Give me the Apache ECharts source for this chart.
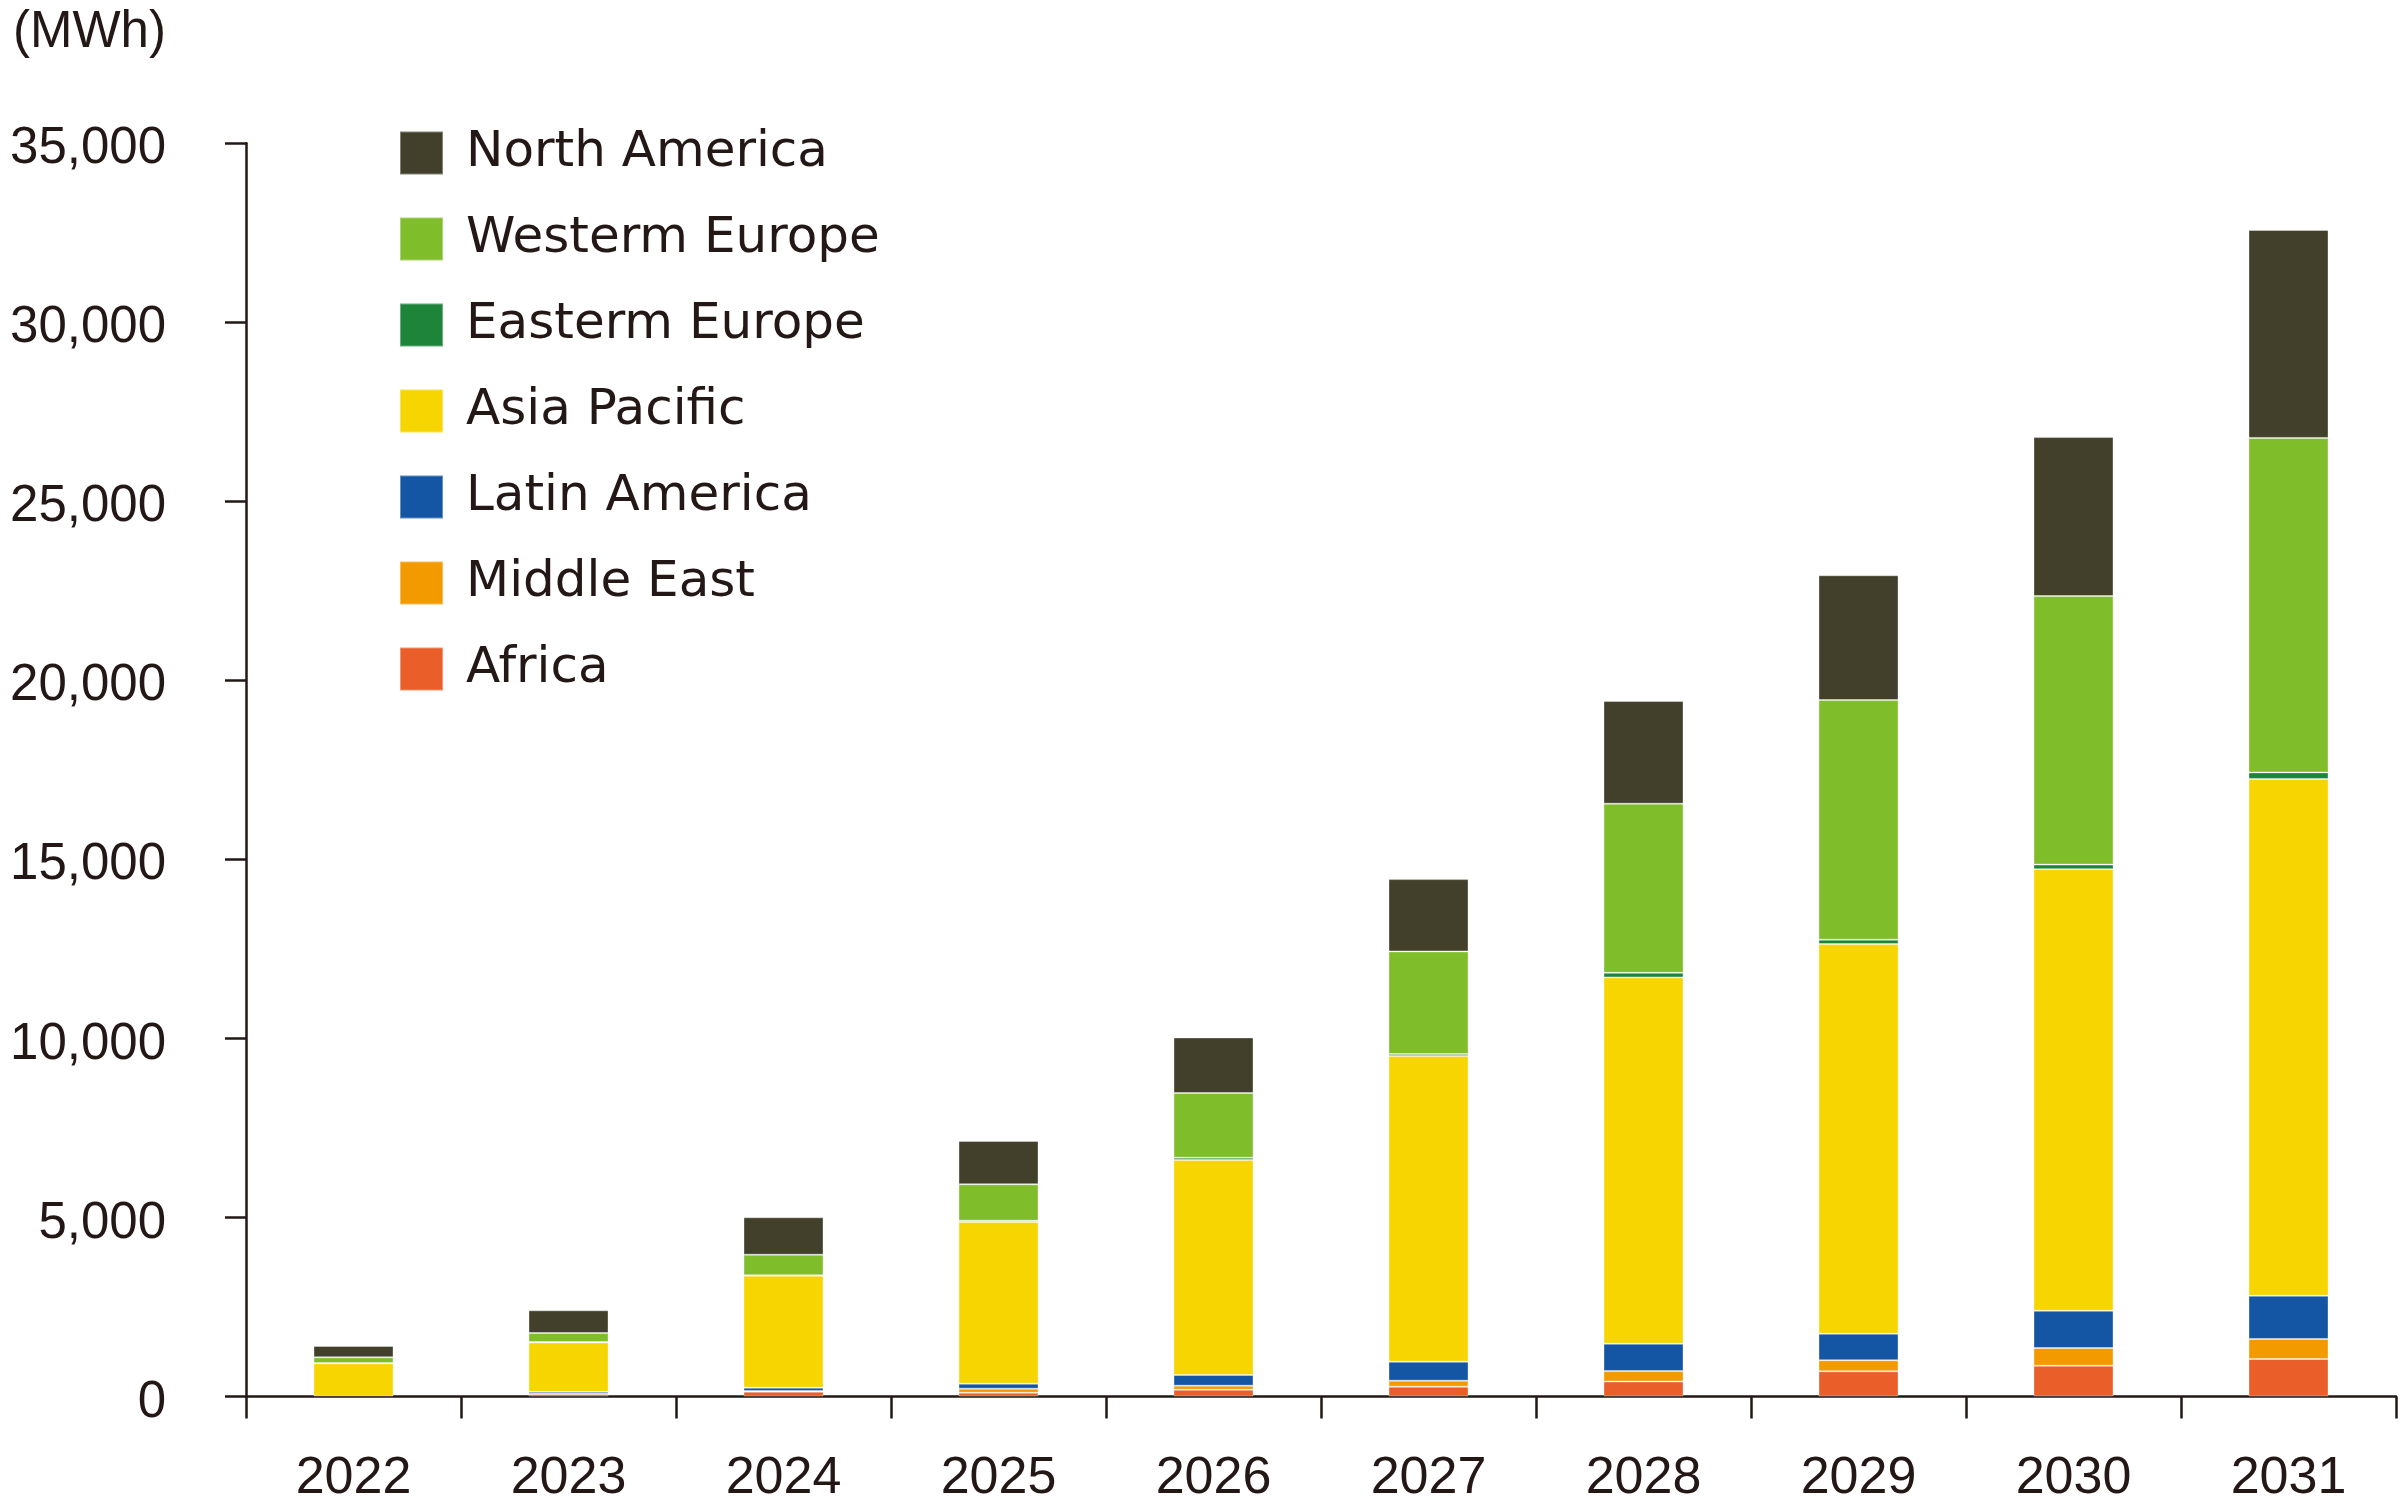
<!DOCTYPE html>
<html>
<head>
<meta charset="utf-8">
<script src="https://cdn.jsdelivr.net/npm/echarts@6/dist/echarts.min.js"></script>
<style>
html,body{margin:0;padding:0;background:#fff;}
#chart{width:2400px;height:1500px;}
</style>
</head>
<body>
<div id="chart"></div>
<script>
const years = ['2022','2023','2024','2025','2026','2027','2028','2029','2030','2031'];
const africa        = [0,   70,  135, 106, 190, 274, 419, 704, 860, 1047];
const middleEast    = [0,   10,  18,  112, 112, 167, 290, 307, 495, 559];
const latinAmerica  = [0,   50,  93,  139, 298, 531, 766, 743, 1041, 1209];
const asiaPacific   = [925, 1380, 3128, 4517, 6005, 8540, 10230, 10884, 12331, 14433];
const easternEurope = [12,  12,  12,  36,  64,  53,  128, 120, 128, 182];
const westernEurope = [158, 251, 574, 1016, 1807, 2866, 4723, 6694, 7502, 9342];
const northAmerica  = [315, 634, 1045, 1210, 1550, 2019, 2868, 3483, 4437, 5806];
const yMin = 0, yMax = 35000, yInterval = 5000;
const unitLabel = '(MWh)';

const seriesDefs = [
  {name:'Africa', data:africa, color:'#e95e29'},
  {name:'Middle East', data:middleEast, color:'#f29a00'},
  {name:'Latin America', data:latinAmerica, color:'#1455a4'},
  {name:'Asia Pacific', data:asiaPacific, color:'#f7d500'},
  {name:'Easterm Europe', data:easternEurope, color:'#1e843a'},
  {name:'Westerm Europe', data:westernEurope, color:'#7fbd2a'},
  {name:'North America', data:northAmerica, color:'#42402b'}
];

const textColor = '#231815';
const chart = echarts.init(document.getElementById('chart'), null, {renderer:'canvas'});
chart.setOption({
  animation:false,
  backgroundColor:'#ffffff',
  title:{
    text:unitLabel, left:8, top:2,
    textStyle:{fontFamily:'Liberation Sans', fontSize:51, fontWeight:'normal', color:textColor}
  },
  legend:{
    orient:'vertical', left:394, top:123,
    itemWidth:43, itemHeight:43, itemGap:36,
    icon:'rect',
    data: seriesDefs.map(s=>s.name).reverse(),
    textStyle:{fontFamily:'DejaVu Sans', fontSize:50, color:textColor, lineHeight:43, padding:[0,0,0,18]}
  },
  grid:{left:246, right:4, top:143.3, bottom:103.5, containLabel:false, outerBoundsMode:'none'},
  xAxis:{
    type:'category', data:years,
    axisLine:{show:true, lineStyle:{color:textColor, width:2.5}},
    axisTick:{show:true, length:22, interval:0, lineStyle:{color:textColor, width:2.5}},
    axisLabel:{margin:56, fontFamily:'Liberation Sans', fontSize:52, color:textColor, interval:0}
  },
  yAxis:{
    type:'value', min:yMin, max:yMax, interval:yInterval,
    splitLine:{show:false},
    axisLine:{show:true, lineStyle:{color:textColor, width:2.5}},
    axisTick:{show:true, length:21, lineStyle:{color:textColor, width:2.5}},
    axisLabel:{margin:80, fontFamily:'Liberation Sans', fontSize:51, color:textColor,
      verticalAlign:'top', lineHeight:12,
      formatter:v=>v.toLocaleString('en-US')}
  },
  series: seriesDefs.map(s=>({
    name:s.name, type:'bar', stack:'total', barWidth:80,
    data:s.data.map(v => v === 0 ? '-' : v),
    itemStyle:{color:s.color, borderColor:'rgba(255,255,255,0.35)', borderWidth:1}
  }))
});
</script>
</body>
</html>
